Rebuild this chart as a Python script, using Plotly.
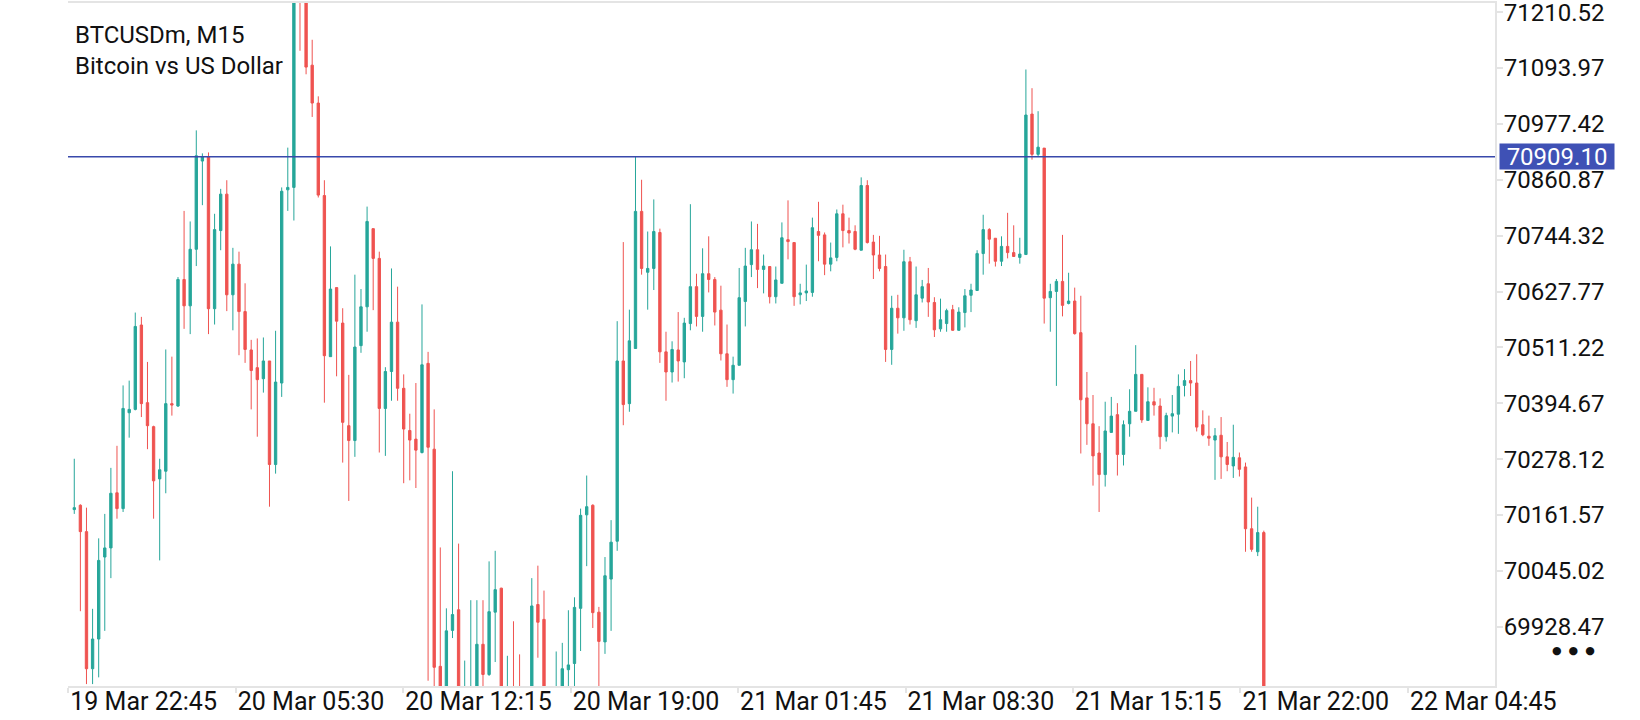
import plotly.graph_objects as go

# M15 candles, 19 Mar 22:45 onwards
opens = [
    70173, 70182, 70127, 69841, 69903, 70074, 70093, 70208, 70175, 70375, 70382, 70558, 70396, 70346,
    70237, 70253, 70394, 70389, 70653, 70598, 70716, 70900, 70909, 70592, 70755, 70831, 70621, 70685,
    70586, 70506, 70469, 70446, 70483, 70267, 70437, 70840, 70845, 71275, 71238, 71100, 71021, 70828,
    70492, 70636, 70562, 70348, 70317, 70515, 70596, 70759, 70697, 70384, 70461, 70564, 70426, 70338,
    70320, 70292, 70478, 70299, 69846, 69770, 69921, 69964, 69760, 69770, 69775, 69892, 69829, 69959,
    70009, 69760, 69790, 69785, 69770, 69770, 69975, 69944, 69780, 69765, 69780, 69839, 69852, 69967,
    70162, 70182, 69959, 69897, 70028, 70107, 70483, 70394, 70509, 70795, 70668, 70676, 70751, 70502,
    70460, 70506, 70481, 70561, 70638, 70576, 70665, 70653, 70589, 70498, 70444, 70474, 70607, 70684,
    70715, 70674, 70680, 70617, 70645, 70736, 70730, 70621, 70625, 70626, 70753, 70746, 70685, 70699,
    70790, 70755, 70753, 70714, 70849, 70731, 70704, 70680, 70507, 70593, 70573, 70690, 70567, 70614,
    70644, 70605, 70550, 70561, 70590, 70547, 70584, 70620, 70630, 70707, 70757, 70739, 70691, 70722,
    70709, 70699, 70705, 70998, 70914, 70927, 70615, 70628, 70649, 70603, 70608, 70542, 70406, 70352,
    70291, 70246, 70334, 70371, 70288, 70352, 70378, 70455, 70359, 70398, 70389, 70325, 70368, 70372,
    70432, 70442, 70437, 70350, 70326, 70318, 70328, 70283, 70264, 70281, 70262, 70133, 70085, 70125,
]
highs = [
    70279, 70184, 70177, 69966, 70113, 70164, 70260, 70306, 70432, 70442, 70584, 70575, 70481, 70348,
    70279, 70507, 70492, 70658, 70796, 70774, 70964, 70916, 70918, 70790, 70842, 70860, 70719, 70711,
    70645, 70527, 70530, 70532, 70483, 70546, 70845, 70928, 71290, 71320, 71255, 71153, 71035, 70860,
    70722, 70636, 70593, 70454, 70663, 70633, 70805, 70759, 70711, 70470, 70676, 70638, 70455, 70373,
    70437, 70601, 70502, 70382, 70094, 69967, 70253, 70102, 69858, 69984, 69984, 69984, 70065, 70087,
    70010, 69868, 69940, 69871, 69800, 70030, 70056, 70004, 69795, 69877, 69895, 69963, 69990, 70175,
    70244, 70184, 69970, 70074, 70151, 70566, 70731, 70590, 70909, 70861, 70753, 70820, 70759, 70544,
    70524, 70585, 70573, 70810, 70665, 70718, 70743, 70658, 70640, 70559, 70492, 70677, 70719, 70774,
    70769, 70705, 70680, 70680, 70772, 70818, 70730, 70644, 70684, 70782, 70815, 70751, 70730, 70799,
    70809, 70782, 70766, 70866, 70860, 70746, 70744, 70705, 70619, 70621, 70715, 70700, 70680, 70652,
    70677, 70616, 70613, 70592, 70600, 70595, 70633, 70644, 70714, 70788, 70760, 70739, 70743, 70792,
    70766, 70740, 71091, 71052, 71004, 70927, 70644, 70654, 70746, 70667, 70636, 70619, 70460, 70412,
    70347, 70398, 70408, 70395, 70359, 70424, 70516, 70455, 70428, 70427, 70405, 70375, 70412, 70455,
    70466, 70483, 70497, 70380, 70369, 70343, 70366, 70314, 70350, 70292, 70271, 70198, 70179, 70129,
]
lows = [
    70164, 69961, 69809, 69809, 69823, 69920, 70030, 70154, 70168, 70323, 70380, 70366, 70299, 70154,
    70067, 70207, 70369, 70387, 70550, 70539, 70681, 70808, 70539, 70559, 70714, 70587, 70547, 70495,
    70479, 70382, 70325, 70417, 70179, 70248, 70408, 70796, 70776, 71130, 71081, 70992, 70824, 70396,
    70492, 70451, 70271, 70191, 70283, 70500, 70544, 70589, 70292, 70285, 70400, 70400, 70228, 70234,
    70218, 70290, 69816, 69790, 69750, 69750, 69905, 69740, 69730, 69740, 69750, 69790, 69826, 69855,
    69750, 69740, 69745, 69740, 69745, 69750, 69864, 69760, 69745, 69750, 69760, 69790, 69795, 69878,
    70055, 69926, 69804, 69872, 69920, 70087, 70349, 70377, 70509, 70663, 70590, 70631, 70479, 70400,
    70438, 70440, 70447, 70547, 70555, 70544, 70626, 70557, 70484, 70429, 70415, 70474, 70555, 70658,
    70635, 70624, 70603, 70603, 70645, 70695, 70598, 70601, 70608, 70617, 70691, 70662, 70670, 70691,
    70720, 70728, 70714, 70714, 70728, 70654, 70670, 70481, 70475, 70540, 70546, 70559, 70552, 70605,
    70575, 70533, 70544, 70544, 70546, 70546, 70553, 70585, 70630, 70663, 70686, 70680, 70681, 70697,
    70700, 70686, 70705, 70903, 70909, 70561, 70544, 70431, 70576, 70601, 70538, 70290, 70308, 70223,
    70168, 70221, 70334, 70244, 70265, 70325, 70378, 70354, 70359, 70369, 70299, 70315, 70334, 70331,
    70409, 70410, 70336, 70326, 70306, 70235, 70237, 70253, 70239, 70242, 70085, 70085, 70076, 69690,
]
closes = [
    70177, 70127, 69841, 69903, 70067, 70093, 70207, 70175, 70384, 70382, 70555, 70394, 70348, 70233,
    70256, 70394, 70391, 70653, 70598, 70716, 70911, 70909, 70592, 70757, 70831, 70621, 70685, 70586,
    70507, 70463, 70444, 70483, 70267, 70439, 70837, 70845, 71262, 71240, 71096, 71021, 70829, 70494,
    70633, 70566, 70355, 70317, 70512, 70596, 70774, 70697, 70384, 70461, 70564, 70426, 70341, 70318,
    70297, 70475, 70303, 69844, 69770, 69920, 69954, 69760, 69790, 69795, 69892, 69829, 69960, 70006,
    69770, 69780, 69770, 69765, 69780, 69972, 69938, 69780, 69770, 69790, 69841, 69849, 69969, 70161,
    70179, 69958, 69898, 70035, 70105, 70483, 70392, 70525, 70795, 70676, 70676, 70753, 70502, 70460,
    70507, 70483, 70562, 70638, 70576, 70665, 70653, 70585, 70498, 70444, 70474, 70615, 70681, 70715,
    70674, 70681, 70617, 70652, 70740, 70732, 70617, 70625, 70629, 70761, 70745, 70685, 70698, 70790,
    70755, 70750, 70716, 70849, 70730, 70704, 70676, 70507, 70593, 70573, 70690, 70569, 70621, 70638,
    70606, 70548, 70569, 70588, 70547, 70585, 70619, 70631, 70707, 70757, 70737, 70691, 70722, 70709,
    70701, 70706, 70996, 70914, 70929, 70614, 70628, 70649, 70599, 70608, 70540, 70402, 70352, 70285,
    70246, 70337, 70368, 70288, 70350, 70378, 70455, 70360, 70398, 70391, 70325, 70369, 70373, 70430,
    70442, 70437, 70345, 70329, 70322, 70327, 70283, 70267, 70282, 70257, 70133, 70090, 70125, 69700,
]

time_labels = ["19 Mar 22:45", "20 Mar 05:30", "20 Mar 12:15", "20 Mar 19:00", "21 Mar 01:45",
               "21 Mar 08:30", "21 Mar 15:15", "21 Mar 22:00", "22 Mar 04:45"]
price_ticks = [71210.52, 71093.97, 70977.42, 70860.87, 70744.32, 70627.77,
               70511.22, 70394.67, 70278.12, 70161.57, 70045.02, 69928.47]
level = 70909.10

bull = "#26a69a"
bear = "#ef5350"
frame = "#e4e4e4"

bars = list(range(len(opens)))

fig = go.Figure()
fig.add_trace(go.Candlestick(
    x=bars, open=opens, high=highs, low=lows, close=closes,
    increasing=dict(line=dict(color=bull, width=1), fillcolor=bull),
    decreasing=dict(line=dict(color=bear, width=1), fillcolor=bear),
    whiskerwidth=0,
    hoverinfo="skip",
    showlegend=False,
))

fig.add_shape(type="line", xref="paper", x0=0, x1=1, y0=level, y1=level,
              line=dict(color="#3949ab", width=1.5))

# price tag on the axis
fig.add_annotation(xref="paper", x=1, xanchor="left", xshift=4, y=level, yref="y",
                   text=f"{level:.2f}", showarrow=False, bgcolor="#3f51b5",
                   font=dict(color="white", size=24, family="Roboto"),
                   width=114, height=25, borderpad=0)

fig.add_annotation(xref="paper", yref="paper", x=0, y=1, xanchor="left", yanchor="top",
                   xshift=5, yshift=-16, align="left", showarrow=False,
                   text="BTCUSDm, M15<br>Bitcoin vs US Dollar",
                   font=dict(color="#111111", size=24, family="Roboto"))

fig.add_annotation(xref="paper", yref="paper", x=1.071, y=0.052, showarrow=False,
                   borderpad=0, yanchor="middle",
                   text="●  ●  ●", font=dict(color="#111111", size=11, family="DejaVu Sans"))

fig.update_xaxes(
    range=[-1.03, 232.9],
    tickmode="array",
    tickvals=[-0.98 + 27.45 * k for k in range(len(time_labels))],
    ticktext=time_labels,
    ticks="outside", ticklen=5, tickcolor=frame, tickwidth=2,
    ticklabelposition="outside right", ticklabeloverflow="allow",
    ticklabelstandoff=-8,
    showline=True, linecolor=frame, linewidth=2, mirror=True,
    showgrid=False, zeroline=False, automargin=False,
    rangeslider=dict(visible=False),
    tickfont=dict(size=25, color="#111111", family="Roboto"),
)
fig.update_yaxes(
    side="right",
    range=[69805.0, 71229.7],
    tickmode="array",
    tickvals=price_ticks,
    ticktext=[f"{p:.2f}" for p in price_ticks],
    ticks="outside", ticklen=6, tickcolor=frame, tickwidth=2,
    ticklabelstandoff=-4, ticklabeloverflow="allow",
    showline=True, linecolor=frame, linewidth=2,
    showgrid=False, zeroline=False, automargin=False,
    tickfont=dict(size=24, color="#111111", family="Roboto"),
)

fig.update_layout(
    width=1640, height=720,
    margin=dict(l=68, r=145, t=3, b=34),
    paper_bgcolor="white", plot_bgcolor="white",
    boxgap=0.45,
    font=dict(family="Roboto"),
)

# the page's default body margin would push the chart 8px off the window
fig.write_html("out.html", config={"displayModeBar": False},
               post_script="document.body.style.margin='0';")
